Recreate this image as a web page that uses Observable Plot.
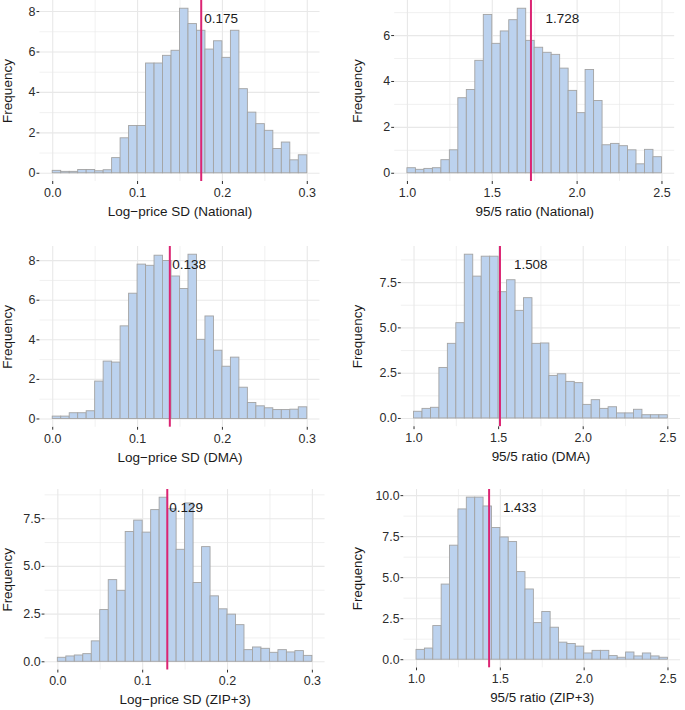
<!DOCTYPE html>
<html><head><meta charset="utf-8">
<script src="https://cdn.jsdelivr.net/npm/d3@7"></script>
<script src="https://cdn.jsdelivr.net/npm/@observablehq/plot@0.6"></script>
<style>
body{margin:0;background:#fff;}
#fig{position:relative;width:685px;height:710px;overflow:hidden;background:#fff;font-family:"Liberation Sans",Arial,sans-serif;}
.panel{position:absolute;}
.panel svg{overflow:visible;}
</style></head><body><div id="fig"></div>
<script>
// ---- data ----
const sdBinStart = 0, sdBinWidth = 0.01, ratioBinStart = 1, ratioBinWidth = 0.05;
const sdNational = [0.12,0.07,0.07,0.16,0.16,0.10,0.15,0.75,1.73,2.34,2.34,5.43,5.43,5.81,6.06,8.14,7.38,7.05,6.12,6.53,5.71,7.05,4.16,3.00,2.43,2.10,1.20,1.52,0.64,0.89];
const ratioNational = [0.22,0.15,0.19,0.22,0.57,1.00,3.27,3.63,4.90,6.90,5.64,6.18,6.67,7.17,5.77,5.47,5.25,5.16,4.56,3.59,2.62,4.50,3.15,1.22,1.28,1.18,1.00,0.39,1.02,0.70];
const sdDMA = [0.12,0.12,0.29,0.29,0.39,1.89,2.90,2.85,4.68,6.33,7.80,7.74,8.25,7.98,7.20,6.57,8.30,4.00,5.18,3.45,2.64,3.10,1.58,0.81,0.64,0.54,0.45,0.45,0.47,0.59];
const ratioDMA = [0.37,0.53,0.59,2.79,4.12,5.26,9.04,7.83,8.93,8.93,6.97,7.63,5.94,6.64,4.12,4.14,2.35,2.44,2.02,1.95,0.75,1.01,0.53,0.62,0.28,0.28,0.48,0.18,0.18,0.18];
const sdZIP = [0.21,0.28,0.33,0.40,1.07,2.71,4.28,3.72,6.80,7.40,6.77,7.95,8.60,8.00,5.87,8.30,4.13,6.01,3.43,2.75,2.47,1.92,0.61,0.75,0.68,0.47,0.61,0.49,0.56,0.31];
const ratioZIP = [0.60,0.68,2.05,4.58,6.95,9.16,9.88,9.88,9.34,8.03,7.45,7.17,5.34,4.28,2.23,2.91,1.95,1.04,0.96,0.80,0.38,0.54,0.54,0.22,0.12,0.44,0.20,0.38,0.20,0.12];
const meanValues = [0.175, 1.728, 0.138, 1.508, 0.129, 1.433];
const xTitles = ["Log\u2212price SD (National)", "95/5 ratio (National)", "Log\u2212price SD (DMA)", "95/5 ratio (DMA)", "Log\u2212price SD (ZIP+3)", "95/5 ratio (ZIP+3)"];
const yTitle = "Frequency";
const sdTicks = [0, 0.1, 0.2, 0.3], sdTickLabels = ["0.0","0.1","0.2","0.3"], sdMinor = [0.05, 0.15, 0.25];
const ratioTicks = [1, 1.5, 2, 2.5], ratioTickLabels = ["1.0","1.5","2.0","2.5"], ratioMinor = [1.25, 1.75, 2.25];
const yTicksA = [0,2,4,6,8], yTickLabelsA = ["0","2","4","6","8"], yMinorA = [1,3,5,7];
const yTicksB = [0,2.5,5,7.5,10], yTickLabelsB = ["0.0","2.5","5.0","7.5","10.0"], yMinorB = [1.25,3.75,6.25,8.75];

// ---- layout (pixels) ----
const layout = [
  {col: 0,   plotLeft: 39.5,  top: 0,     h: 181,   labelDx: 3},
  {col: 342, plotLeft: 394.2, top: 0,     h: 181,   labelDx: 14.5},
  {col: 0,   plotLeft: 39.5,  top: 245.5, h: 180.7, labelDx: 2.5},
  {col: 342, plotLeft: 401,   top: 245.5, h: 180.7, labelDx: 14},
  {col: 0,   plotLeft: 44.6,  top: 489,   h: 180.5, labelDx: 2},
  {col: 342, plotLeft: 404.2, top: 489,   h: 180.5, labelDx: 14}
];
const yLabelX = [7, 357.5];
const plotW = 280;
const FONT = '"Liberation Sans", Arial, sans-serif';

const series = [sdNational, ratioNational, sdDMA, ratioDMA, sdZIP, ratioZIP];
const fig = document.getElementById("fig");

series.forEach((vals, i) => {
  const isSD = i % 2 === 0;
  const L = layout[i];
  const start = isSD ? sdBinStart : ratioBinStart;
  const bw = isSD ? sdBinWidth : ratioBinWidth;
  const rows = vals.map((v, k) => ({x1: start + k * bw, x2: start + (k + 1) * bw, v}));
  const xTicks = isSD ? sdTicks : ratioTicks;
  const xLabels = isSD ? sdTickLabels : ratioTickLabels;
  const xMinor = isSD ? sdMinor : ratioMinor;
  const lo = xTicks[0], hi = xTicks[xTicks.length - 1];
  const m = d3.max(vals);
  const useB = i >= 3;
  const yT = (useB ? yTicksB : yTicksA).filter(t => t <= m * 1.05);
  const yL = useB ? yTickLabelsB : yTickLabelsA;
  const yAll = useB ? yTicksB : yTicksA;
  const yM = (useB ? yMinorB : yMinorA).filter(t => t <= m * 1.05);
  const marginLeft = L.plotLeft - L.col;
  const marginRight = 5;
  const marginBottom = 45;
  const mean = meanValues[i];
  const gridColor = "#e8e8e8";

  const chart = Plot.plot({
    width: marginLeft + plotW + marginRight,
    height: L.h + marginBottom,
    marginLeft, marginRight, marginTop: 0, marginBottom,
    style: {fontFamily: FONT, fontSize: "12.5px", color: "#2b2b2b", background: "transparent", overflow: "visible"},
    x: {domain: [lo - 0.05 * (hi - lo), hi + 0.05 * (hi - lo)], ticks: xTicks,
        tickFormat: d => xLabels[xTicks.indexOf(d)], tickSize: 3, tickPadding: 3.5, label: null},
    y: {domain: [-0.05 * m, 1.05 * m], ticks: yT,
        tickFormat: d => yL[yAll.indexOf(d)], tickSize: 3, tickPadding: 1.5, label: null},
    marks: [
      Plot.ruleX(xMinor, {stroke: gridColor, strokeWidth: 0.6}),
      Plot.ruleY(yM, {stroke: gridColor, strokeWidth: 0.6}),
      Plot.ruleX(xTicks, {stroke: gridColor, strokeWidth: 1.1}),
      Plot.ruleY(yT, {stroke: gridColor, strokeWidth: 1.1}),
      Plot.rectY(rows, {x1: "x1", x2: "x2", y: "v", fill: "#bcd2ee", stroke: "#a3a3a3", strokeWidth: 0.9}),
      Plot.ruleX([mean], {stroke: "#db2473", strokeWidth: 2}),
      Plot.text([mean], {x: d => d, frameAnchor: "top", dy: 18.5, dx: L.labelDx, text: d => d3.format(".3f")(d),
        textAnchor: "start", lineAnchor: "middle", fontSize: 13.5, fill: "#1a1a1a"}),
      Plot.text([xTitles[i]], {frameAnchor: "bottom", dy: 30, text: d => d, lineAnchor: "middle", fontSize: 13.5, fill: "#1a1a1a"}),
      Plot.text([yTitle], {frameAnchor: "left", dx: -(L.plotLeft - yLabelX[isSD ? 0 : 1]), text: d => d,
        rotate: -90, textAnchor: "middle", lineAnchor: "middle", fontSize: 13.5, fill: "#1a1a1a"})
    ]
  });
  const div = document.createElement("div");
  div.className = "panel";
  div.style.left = L.col + "px";
  div.style.top = L.top + "px";
  div.appendChild(chart);
  fig.appendChild(div);
});
</script>
</body></html>
